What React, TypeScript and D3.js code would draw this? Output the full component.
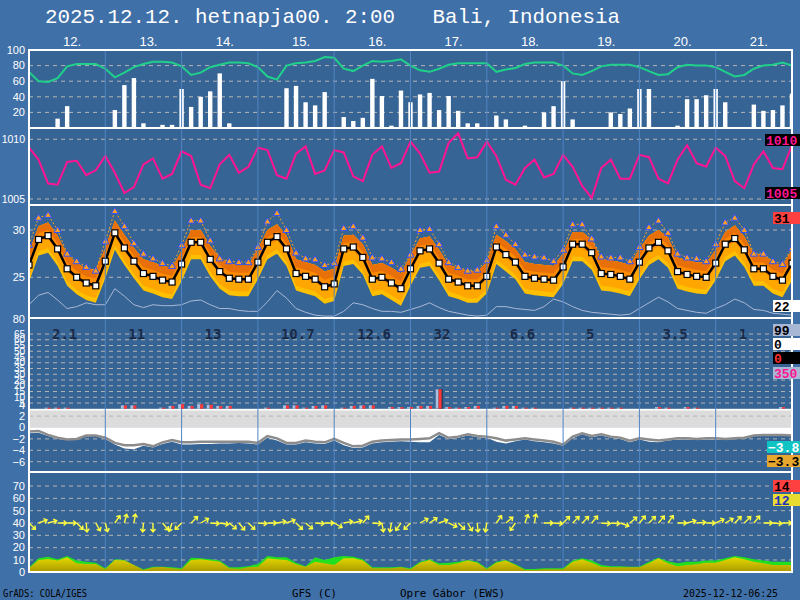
import * as d3 from 'd3';

const dayLabels = ['12.', '13.', '14.', '15.', '16.', '17.', '18.', '19.', '20.', '21.'];
const dayTotals = ['2.1', '11', '13', '10.7', '12.6', '32', '6.6', '5', '3.5', '1'];

// all series are 3-hourly, 81 steps over 10 days
const humidity = [72, 60, 59, 64, 79, 82, 82, 82, 76, 65, 71, 78, 82, 85, 85, 84, 79, 68, 71, 78,
  81, 84, 84, 83, 78, 66, 62, 80, 83, 84, 86, 91, 90, 76, 73, 80, 86, 85, 86, 88,
  80, 74, 72, 76, 81, 83, 83, 83, 83, 72, 75, 77, 82, 84, 84, 84, 80, 70, 68, 73,
  79, 81, 81, 81, 78, 73, 68, 69, 78, 81, 80, 80, 78, 72, 66, 68, 76, 80, 81, 84, 80];
const cloudCover = [0, 0, 0, 12, 28, 0, 0, 0, 0, 23, 55, 64, 6, 0, 4, 4, 50, 27, 40, 47,
  70, 6, 0, 0, 0, 0, 0, 51, 54, 33, 29, 46, 0, 14, 9, 13, 63, 41, 3, 48,
  33, 43, 45, 23, 41, 22, 6, 6, 0, 16, 11, 0, 3, 0, 20, 28, 60, 11, 0, 0,
  0, 20, 18, 25, 50, 50, 0, 0, 3, 37, 37, 42, 50, 33, 0, 0, 30, 22, 23, 29, 44];
const pressure = [1009.3, 1008.3, 1006.3, 1006.2, 1008.1, 1008.2, 1007.0, 1007.4, 1008.6, 1007.2,
  1005.5, 1006.0, 1007.9, 1008.4, 1006.7, 1007.1, 1009.0, 1008.6, 1006.2, 1005.9,
  1007.9, 1008.7, 1007.2, 1007.7, 1009.3, 1009.1, 1007.0, 1006.7, 1008.8, 1009.4,
  1007.1, 1007.4, 1009.1, 1008.9, 1006.9, 1006.5, 1008.7, 1009.4, 1007.6, 1008.0,
  1009.8, 1008.8, 1007.2, 1007.3, 1009.7, 1010.5, 1008.4, 1008.5, 1009.8, 1008.6,
  1006.6, 1006.2, 1007.6, 1008.3, 1006.8, 1007.1, 1008.7, 1007.7, 1006.1, 1005.1,
  1007.6, 1008.3, 1006.7, 1006.7, 1008.7, 1008.5, 1006.7, 1006.3, 1008.3, 1009.5,
  1008.0, 1007.7, 1009.3, 1008.6, 1006.5, 1005.9, 1007.9, 1009.0, 1007.6, 1007.5, 1009.5];
const temperature = [26.3, 29.0, 29.4, 28.0, 25.9, 25.0, 24.4, 24.1, 26.7, 29.7,
  28.1, 26.7, 25.4, 25.1, 24.7, 24.5, 26.4, 28.7, 28.7, 26.9,
  25.6, 24.9, 24.8, 24.8, 26.6, 28.7, 29.3, 28.0, 25.4, 25.1,
  24.8, 24.0, 24.3, 28.0, 28.2, 27.1, 24.8, 25.0, 24.4, 23.8,
  25.9, 27.8, 28.0, 26.5, 24.8, 24.5, 24.1, 24.1, 25.1, 28.2,
  27.4, 26.6, 25.1, 24.9, 24.8, 24.7, 26.1, 28.5, 28.5, 27.6,
  25.4, 25.3, 25.1, 24.8, 26.6, 28.1, 28.7, 27.8, 25.6, 25.3,
  25.1, 25.0, 26.5, 28.5, 29.1, 27.9, 25.9, 25.9, 25.1, 24.7, 26.5];
const tempMax = [28.4, 31.3, 31.6, 30.0, 27.5, 26.7, 26.1, 25.7, 28.8, 32.0,
  30.4, 28.6, 27.5, 27.0, 26.5, 26.2, 28.4, 31.0, 31.0, 28.9,
  27.0, 26.7, 26.6, 26.6, 28.2, 30.9, 31.8, 30.0, 27.6, 27.0,
  26.9, 26.3, 26.5, 30.2, 30.4, 29.2, 27.1, 27.0, 26.6, 25.9,
  27.4, 30.0, 30.1, 28.5, 26.6, 26.1, 25.7, 25.8, 26.8, 30.4,
  29.5, 28.5, 27.4, 27.2, 27.1, 26.7, 27.9, 30.6, 30.6, 29.1,
  27.2, 27.1, 27.1, 26.7, 28.2, 30.3, 31.0, 29.7, 27.5, 27.1,
  27.0, 26.7, 28.5, 30.8, 31.3, 30.0, 27.5, 27.5, 26.7, 26.4, 28.1];
const tempHigh = [27.6, 30.4, 30.8, 29.4, 27.4, 26.5, 25.9, 25.8, 28.1, 31.0,
  29.5, 28.1, 26.9, 26.6, 26.2, 26.0, 27.8, 30.0, 30.0, 28.3,
  27.1, 26.4, 26.3, 26.3, 28.0, 30.0, 30.6, 29.4, 26.9, 26.6,
  26.3, 25.6, 25.9, 29.4, 29.5, 28.5, 26.3, 26.5, 26.0, 25.4,
  27.3, 29.1, 29.3, 27.9, 26.3, 26.0, 25.6, 25.6, 26.6, 29.5,
  28.8, 28.0, 26.6, 26.4, 26.3, 26.2, 27.5, 29.8, 29.8, 29.0,
  26.9, 26.8, 26.6, 26.3, 28.0, 29.4, 30.0, 29.2, 27.1, 26.8,
  26.6, 26.5, 27.9, 29.8, 30.5, 29.3, 27.4, 27.4, 26.6, 26.2, 27.9];
const tempLow = [24.5, 27.3, 27.6, 26.2, 24.1, 23.2, 22.6, 22.3, 24.9, 27.9,
  26.3, 24.9, 23.6, 23.3, 22.9, 22.7, 24.6, 26.9, 26.9, 25.1,
  23.8, 23.1, 23.0, 23.0, 24.8, 26.9, 27.5, 26.2, 23.6, 23.3,
  23.0, 22.2, 22.5, 26.2, 26.4, 25.3, 23.0, 23.2, 22.6, 22.0,
  24.1, 26.0, 26.2, 24.7, 23.0, 22.7, 22.3, 22.3, 23.3, 26.4,
  25.6, 24.8, 23.3, 23.1, 23.0, 22.9, 24.3, 26.7, 26.7, 25.8,
  23.6, 23.5, 23.3, 23.0, 24.8, 26.3, 26.9, 26.0, 23.8, 23.5,
  23.3, 23.2, 24.7, 26.7, 27.3, 26.1, 24.1, 24.1, 23.3, 22.9, 24.7];
const dewPoint = [22.1, 23.1, 23.4, 22.6, 21.7, 21.9, 22.3, 22.1, 22.1, 23.8,
  23.0, 22.1, 21.8, 22.1, 22.0, 22.0, 22.1, 22.5, 22.6, 22.1,
  21.7, 21.7, 21.5, 21.4, 21.4, 22.4, 23.6, 22.8, 21.7, 21.3,
  21.0, 20.9, 20.9, 21.4, 22.3, 22.1, 21.7, 21.4, 21.4, 21.3,
  21.6, 21.9, 22.3, 21.8, 21.4, 21.2, 21.0, 20.9, 21.0, 21.9,
  21.9, 21.7, 21.6, 21.5, 21.9, 22.7, 22.4, 21.9, 21.5, 21.3,
  21.2, 21.1, 21.0, 21.1, 21.7, 22.3, 22.9, 22.4, 21.7, 21.5,
  21.3, 21.2, 21.7, 22.1, 22.7, 22.3, 21.6, 21.5, 21.2, 21.1, 21.0];
const precip = [0, 0, 1, 1, 1, 0, 0, 0, 0, 0, 3, 3, 0, 0, 1, 2.5, 4, 2.5, 4, 3.5,
  2.5, 2.5, 0, 0, 0, 1, 0, 3, 3, 1, 2.5, 3, 0, 1, 2.5, 3, 3, 0, 1.5, 1.5,
  1.5, 2.5, 2.5, 17, 1.5, 1, 1.5, 2.5, 0, 1, 2.5, 2.5, 1, 1, 0, 0, 0, 1, 1, 1,
  1, 1, 1, 0, 0, 0, 1.5, 1, 0, 1.5, 1, 0, 0, 0, 0, 0, 0, 0, 0, 1.5, 0];
const lowLine = [-0.7, -0.6, -1.3, -1.8, -2.1, -2.0, -1.4, -1.4, -1.8, -2.7,
  -3.1, -3.1, -2.9, -3.3, -2.6, -2.2, -2.6, -2.6, -2.5, -2.5,
  -2.5, -2.5, -2.5, -2.5, -2.7, -1.5, -1.9, -2.7, -2.7, -2.3,
  -2.5, -2.6, -2.0, -2.7, -3.3, -3.2, -2.5, -2.3, -2.2, -2.1,
  -2.1, -2.0, -1.9, -1.0, -1.8, -1.6, -1.2, -1.5, -1.6, -1.9,
  -2.3, -2.1, -1.9, -2.1, -2.3, -2.5, -3.0, -1.6, -1.0, -1.5,
  -1.2, -1.6, -1.8, -2.3, -1.9, -2.1, -2.3, -2.1, -1.9, -1.9,
  -2.0, -1.9, -1.9, -2.0, -1.9, -1.8, -1.4, -1.3, -1.3, -1.3, -1.4];
const lowMin = [-1.0, -0.9, -1.5, -2.0, -2.2, -2.1, -1.6, -1.5, -2.0, -3.0,
  -3.7, -3.8, -3.2, -3.5, -2.9, -2.5, -3.0, -3.0, -2.9, -2.9,
  -2.8, -2.8, -2.7, -2.8, -3.0, -1.8, -2.3, -3.0, -3.0, -2.6,
  -2.8, -2.9, -2.3, -3.1, -3.6, -3.5, -2.8, -2.6, -2.5, -2.4,
  -2.5, -2.6, -2.6, -1.3, -2.0, -1.8, -1.4, -1.7, -1.8, -2.5,
  -2.8, -2.4, -2.1, -2.4, -2.6, -2.8, -3.2, -1.9, -1.2, -1.7,
  -1.4, -1.8, -2.0, -2.6, -2.1, -2.5, -2.6, -2.3, -2.1, -2.1,
  -2.2, -2.1, -2.1, -2.2, -2.0, -2.0, -1.5, -1.3, -1.3, -1.3, -1.4];
const windSpeed = [3.2, 10, 10.8, 9.5, 12.2, 7.3, 6.8, 6.8, 2.4, 10, 9.5, 6, 1.9, 3.8, 4.3, 3.2, 2.4, 10, 10.5, 9.5,
  8.6, 3.2, 2.7, 4, 4.6, 11.4, 10.5, 10, 6.5, 4.6, 8.6, 7.3, 6, 11.4, 11.4, 9.5, 3.2, 3.2, 3.2, 4,
  2.4, 7.8, 10, 6, 6, 7.3, 9.5, 7.8, 2.4, 7.8, 9.5, 6, 1.9, 1.9, 2.4, 2.4, 2.4, 8.6, 10.5, 7.8,
  4.6, 4, 4, 4, 4, 7.3, 11.4, 7.3, 5, 6, 6.5, 7.8, 7.8, 10, 12.2, 10.5, 8.6, 7.3, 6, 6, 6];
const windGust = [3.8, 11.4, 12.7, 10.5, 13.2, 9.5, 8.6, 7.8, 3.2, 10.5, 10, 6, 2.4, 4.6, 4.6, 4, 3.2, 11.9, 11.4, 10.5,
  9.5, 4, 4, 5, 6.8, 13.2, 12.2, 12.2, 7.8, 5, 12.2, 10, 12.2, 13.2, 12.7, 10.5, 4, 4, 4, 4.6,
  3.2, 8.6, 10.5, 7.3, 7.8, 8.6, 10, 8.6, 3.2, 8.6, 10, 6.5, 2.7, 2.7, 3.2, 3.2, 3.2, 9.5, 11.4, 9.5,
  6, 5, 5, 4.6, 4.6, 8.6, 11.9, 9, 7.3, 8.6, 8.6, 9.5, 9.5, 11.4, 13.2, 12.2, 10.5, 9.5, 8.6, 8.6, 8.6];
const windDir = [135, 70, 75, 90, 90, 135, 175, 150, 165, 35, 15, 10, 185, 180, 140, 200, 225, 45, 60, 95,
  100, 130, 140, 135, 95, 90, 80, 70, 135, 130, 95, 90, 120, 80, 75, 40, 95, 170, 190, 215,
  225, 60, 55, 70, 115, 135, 150, 175, 190, 35, 50, 215, 20, 10, 90, 95, 45, 45, 45, 40,
  95, 95, 110, 50, 40, 45, 40, 35, 90, 75, 85, 90, 65, 60, 45, 45, 40, 90, 95, 90, 90];

const humTicks = [20, 40, 60, 80, 100];
const presTicks = [1005, 1010];
const tempTicks = [25, 30];
const precipTicks = [65, 60, 55, 50, 45, 40, 35, 30, 25, 20, 15, 10, 5];
const lowTicks = [4, 2, 0, -2, -4, -6];
const windTicks = [0, 10, 20, 30, 40, 50, 60, 70];
const sideValues = ['1010', '1005', '31', '22', '99', '0', '0', '350', '-3.8', '-3.3', '14', '12'];

export default function App() {
  const L = 29, R = 792;
  const hours = d3.range(humidity.length).map(i => i * 3);
  const x = d3.scaleLinear().domain([0, 240]).range([L, R]);
  const px = (i: number) => x(hours[i]);

  const y1 = d3.scaleLinear().domain([0, 100]).range([128, 50]);
  const y2 = d3.scaleLinear().domain([1005, 1010]).range([199, 139.3]);
  const y3 = d3.scaleLinear().domain([25, 30]).range([277.3, 230]);
  const y4 = d3.scaleLinear().domain([0, 65]).range([408.8, 334]);
  const y4b = d3.scaleLinear().domain([0, -6]).range([427.5, 461.7]);
  const y5 = d3.scaleLinear().domain([0, 70]).range([572.3, 486]);

  const panels: [number, number][] = [[50, 128], [128, 205], [205, 318], [318, 472], [472, 572]];
  const dayBounds = d3.range(1, 10).map(d => x(d * 24));

  const lineOf = (yS: (v: number) => number) =>
    d3.line<number>().x((_, i) => px(i)).y(d => yS(d));

  const band = (f0: number, f1: number) =>
    d3.area<number>()
      .x((_, i) => px(i))
      .y0((_, i) => y3(tempLow[i] + f0 * (tempHigh[i] - tempLow[i])))
      .y1((_, i) => y3(tempLow[i] + f1 * (tempHigh[i] - tempLow[i])));

  const lowArea = d3.area<number>().x((_, i) => px(i)).y0(y4b(0)).y1(d => y4b(d));
  const windArea = d3.area<number>().x((_, i) => px(i)).y0(y5(0)).y1(d => y5(d));

  const grid = '#b4b4b4';
  const tickFont = { fontFamily: 'Liberation Sans', fontSize: 11, fill: '#ffffff' };

  const yTicks = (vals: number[], yS: (v: number) => number, size = 11) =>
    vals.map(v => (
      <text key={v} x={25} y={yS(v)} dy="0.35em" textAnchor="end" {...tickFont} fontSize={size}>
        {String(v).replace('-', '\u2212')}
      </text>
    ));
  const gridLines = (vals: number[], yS: (v: number) => number, color = grid) =>
    vals.map(v => (
      <line key={v} x1={L} x2={R} y1={yS(v)} y2={yS(v)} stroke={color} strokeWidth={1} strokeDasharray="4,4" />
    ));

  const side = [
    { x: 765, y: 134, bg: '#000000', fg: '#ff1493' },
    { x: 765, y: 187, bg: '#000000', fg: '#ff1493' },
    { x: 773, y: 212, bg: '#ff4040', fg: '#000000' },
    { x: 773, y: 300, bg: '#ffffff', fg: '#000000' },
    { x: 773, y: 324, bg: '#a8b8d4', fg: '#000000' },
    { x: 773, y: 338, bg: '#ffffff', fg: '#000000' },
    { x: 773, y: 352, bg: '#000000', fg: '#ff3030' },
    { x: 773, y: 367, bg: '#a8b8d4', fg: '#ff1493' },
    { x: 767, y: 441, bg: '#10c4c4', fg: '#ffffff' },
    { x: 767, y: 455, bg: '#e8a830', fg: '#000000' },
    { x: 773, y: 480, bg: '#ff4040', fg: '#000000' },
    { x: 773, y: 494, bg: '#e8dc30', fg: '#2030c0' },
  ];

  return (
    <svg width={800} height={600} style={{ position: 'absolute', left: 0, top: 0 }}>
      <defs>
        {panels.map((p, k) => (
          <clipPath id={`clip${k}`} key={k}>
            <rect x={L} y={p[0]} width={R - L} height={p[1] - p[0]} />
          </clipPath>
        ))}
        <linearGradient id="windGrad" gradientUnits="userSpaceOnUse" x1={0} y1={y5(0)} x2={0} y2={y5(12)}>
          <stop offset="0" stopColor="#a89800" />
          <stop offset="1" stopColor="#e4d800" />
        </linearGradient>
      </defs>
      <rect width={800} height={600} fill="#4070a8" />
      <rect x={L} y={50} width={R - L} height={522} fill="#366494" />

      {/* title */}
      <text x={45} y={23} fontFamily="Liberation Mono" fontSize={21} fill="#ffffff"
        textLength={575} lengthAdjust="spacingAndGlyphs" xmlSpace="preserve">
        2025.12.12. hetnapja00. 2:00   Bali, Indonesia
      </text>
      {dayLabels.map((d, k) => (
        <text key={d} x={x(k * 24 + 12) + 5} y={46} textAnchor="middle" fontFamily="Liberation Sans"
          fontSize={13} fill="#ffffff">{d}</text>
      ))}

      {/* panel 1: humidity and cloud */}
      {gridLines([20, 40, 60, 80], y1)}
      {yTicks(humTicks, y1)}
      <g clipPath="url(#clip0)">
        {cloudCover.map((v, i) => v > 0 && (
          <rect key={i} x={px(i) - 2.2} y={y1(v)} width={4.4} height={y1(0) - y1(v)} fill="#ffffff" />
        ))}
        <path d={lineOf(y1)(humidity) ?? ''} fill="none" stroke="#20d08a" strokeWidth={2} />
      </g>

      {/* panel 2: pressure */}
      {gridLines(presTicks, y2)}
      {yTicks(presTicks, y2, 10.5)}
      <g clipPath="url(#clip1)">
        <path d={lineOf(y2)(pressure) ?? ''} fill="none" stroke="#ff1493" strokeWidth={2} />
      </g>

      {/* panel 3: temperature */}
      {gridLines(tempTicks, y3)}
      {yTicks(tempTicks, y3)}
      <text x={25} y={319} dy="0.35em" textAnchor="end" {...tickFont}>80</text>
      <g clipPath="url(#clip2)">
        <path d={band(0, 1)(temperature) ?? ''} fill="#ffc000" />
        <path d={band(0.15, 1)(temperature) ?? ''} fill="#ffa600" />
        <path d={band(0.45, 1)(temperature) ?? ''} fill="#ff8c00" />
        <path d={band(0.75, 1)(temperature) ?? ''} fill="#e87008" />
        <path d={lineOf(y3)(dewPoint) ?? ''} fill="none" stroke="#a8b8d8" strokeWidth={1} />
        <path d={lineOf(y3)(tempMax) ?? ''} fill="none" stroke="#ffa020" strokeWidth={1} strokeDasharray="2,2" />
        {tempMax.map((v, i) => (
          <path key={i} transform={`translate(${px(i)},${y3(v)})`} d="M0,-3.5L3.5,2.5L-3.5,2.5Z"
            fill="#ffa020" stroke="#3050ff" strokeWidth={1} />
        ))}
        <path d={lineOf(y3)(temperature) ?? ''} fill="none" stroke="#000000" strokeWidth={2.5} />
        {temperature.map((v, i) => (
          <rect key={i} x={px(i) - 3} y={y3(v) - 3} width={6} height={6} fill="#ffffff" stroke="#000000" strokeWidth={1.2} />
        ))}
      </g>

      {/* panel 4: precipitation and low values */}
      {gridLines(precipTicks, y4)}
      {yTicks(precipTicks, y4, 10)}
      {yTicks(lowTicks, y4b)}
      <g clipPath="url(#clip3)">
        <rect x={L} y={y4(0)} width={R - L} height={y4b(0) - y4(0)} fill="#ffffff" />
        <rect x={L} y={y4(0) + 1.7} width={R - L} height={y4b(0) - y4(0) - 1.7} fill="#dcdcdc" />
        {gridLines([2, -2, -4, -6], y4b)}
        <path d={lowArea(lowMin) ?? ''} fill="#ffffff" />
        <path d={lineOf(y4b)(lowLine) ?? ''} fill="none" stroke="#8c8c8c" strokeWidth={2.5} />
      </g>

      {/* day separators */}
      {dayBounds.map((b, k) => (
        <line key={k} x1={b} x2={b} y1={50} y2={572} stroke="#5084c4" strokeWidth={1} />
      ))}

      <g clipPath="url(#clip3)">
        {precip.map((v, i) => v > 0 && (
          <g key={i}>
            {v > 8 && <rect x={px(i) - 3.5} y={y4(v)} width={7} height={y4(0) - y4(v)} fill="#1c2c48" />}
            <rect x={px(i) - 3.5} y={y4(v)} width={3} height={y4(0) - y4(v)} fill="#a8c0e0" />
            <rect x={px(i) - 0.5} y={y4(v)} width={3} height={y4(0) - y4(v)} fill="#ff3838" />
          </g>
        ))}
        {dayTotals.map((t, k) => (
          <text key={k} x={x(k * 24) + 23} y={339} fontFamily="DejaVu Sans Mono" fontWeight="bold"
            fontSize={14} fill="#1a2a48">{t}</text>
        ))}
      </g>

      {/* panel 5: wind */}
      {gridLines(windTicks.slice(1), y5)}
      {yTicks(windTicks, y5)}
      <g clipPath="url(#clip4)">
        <path d={windArea(windGust) ?? ''} fill="#20e020" />
        <path d={windArea(windSpeed) ?? ''} fill="url(#windGrad)" />
        {windDir.map((a, i) => (
          <path key={i} transform={`translate(${px(i)},${y5(40)}) rotate(${a})`}
            d="M0,0L0,-9M-2.5,-6L0,-9L2.5,-6" fill="none" stroke="#ffff40" strokeWidth={1.4} />
        ))}
      </g>

      {/* frames */}
      {panels.map((p, k) => (
        <rect key={k} x={L} y={p[0]} width={R - L} height={p[1] - p[0]} fill="none" stroke="#ffffff" strokeWidth={2} />
      ))}

      {/* value boxes on the right */}
      {side.map((s, k) => (
        <g key={k}>
          <rect x={s.x} y={s.y} width={800 - s.x} height={12} fill={s.bg} />
          <text x={s.x + 1} y={s.y + 11} fontFamily="Liberation Mono" fontWeight="bold" fontSize={13}
            fill={s.fg}>{sideValues[k].replace('-', '\u2212')}</text>
        </g>
      ))}

      {/* footer */}
      <g fontFamily="DejaVu Sans Mono" fontSize={10} fill="#000000">
        <text x={3} y={597} textLength={84} lengthAdjust="spacingAndGlyphs">GrADS: COLA/IGES</text>
        <text x={292} y={597} textLength={45} lengthAdjust="spacingAndGlyphs">GFS (C)</text>
        <text x={400} y={597} textLength={105} lengthAdjust="spacingAndGlyphs">Opre Gábor (EWS)</text>
        <text x={683} y={597} textLength={95} lengthAdjust="spacingAndGlyphs">2025-12-12-06:25</text>
      </g>
    </svg>
  );
}
